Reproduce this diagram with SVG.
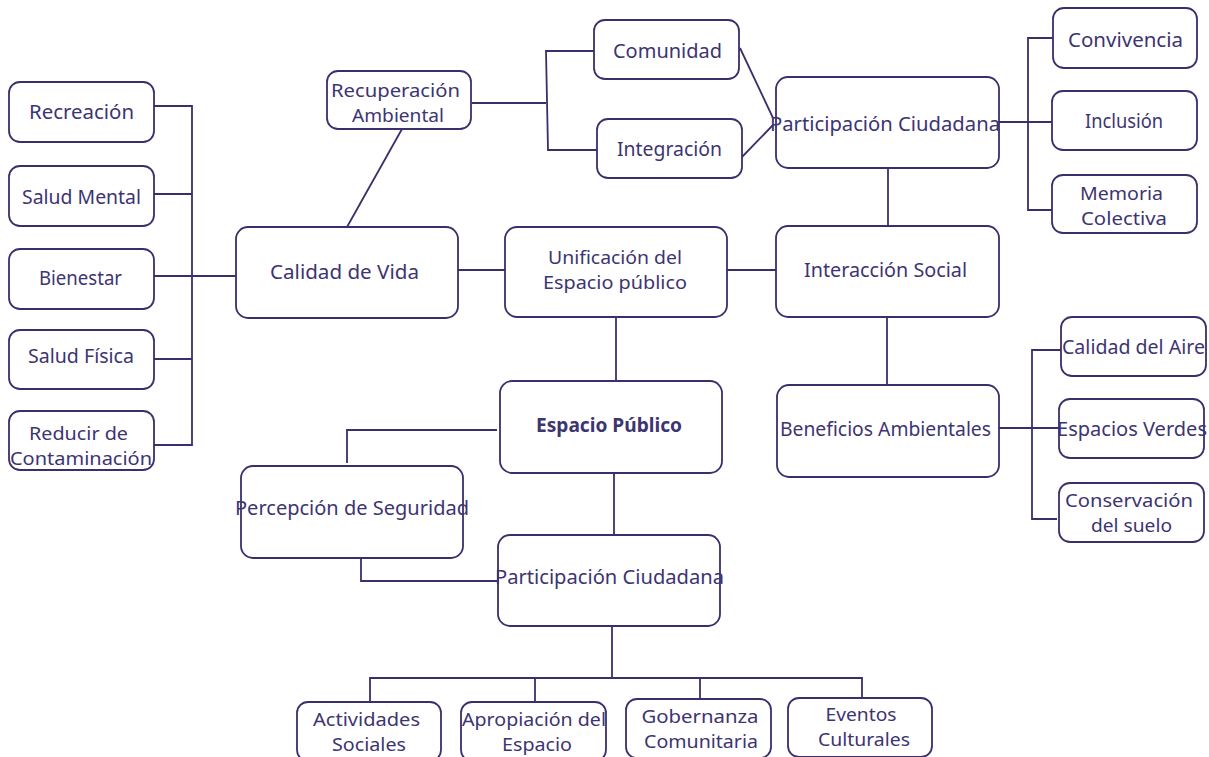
<svg xmlns="http://www.w3.org/2000/svg" width="1209" height="757" viewBox="0 0 1209 757">
<style>
.box{fill:#fff;stroke:#3a2f6b;stroke-width:1.8}
.ln{fill:none;stroke:#3a2f6b;stroke-width:1.8}
text{font-family:"Noto Sans","Liberation Sans",sans-serif;font-size:19px;fill:#3d3472;text-anchor:middle;dominant-baseline:central}
.m{font-size:18px}
.b{font-weight:bold}
</style>
<rect width="1209" height="757" fill="#fff"/>
<g id="connectors">
<polyline class="ln" points="154,106 192,106 192,445 154,445"/>
<line class="ln" x1="154" y1="194" x2="192" y2="194"/>
<line class="ln" x1="154" y1="276" x2="236" y2="276"/>
<line class="ln" x1="154" y1="359" x2="192" y2="359"/>
<line class="ln" x1="402" y1="129" x2="347" y2="227"/>
<line class="ln" x1="472" y1="103" x2="546" y2="103"/>
<polyline class="ln" points="596,51 546,51 548,150 597,150"/>
<line class="ln" x1="740" y1="48" x2="773" y2="118"/>
<line class="ln" x1="742" y1="157" x2="773" y2="125"/>
<line class="ln" x1="999" y1="122" x2="1052" y2="122"/>
<polyline class="ln" points="1053,38 1028,38 1028,210 1052,210"/>
<line class="ln" x1="458" y1="270" x2="505" y2="270"/>
<line class="ln" x1="727" y1="270" x2="776" y2="270"/>
<line class="ln" x1="888" y1="168" x2="888" y2="226"/>
<line class="ln" x1="887" y1="317" x2="887" y2="385"/>
<line class="ln" x1="999" y1="428" x2="1059" y2="428"/>
<polyline class="ln" points="1062,350 1032,350 1032,519 1057,519"/>
<line class="ln" x1="616" y1="317" x2="616" y2="381"/>
<polyline class="ln" points="497,430 347,430 347,463"/>
<polyline class="ln" points="361,556 361,581 497,581"/>
<line class="ln" x1="614" y1="473" x2="614" y2="535"/>
<line class="ln" x1="612" y1="626" x2="612" y2="678"/>
<polyline class="ln" points="370,702 370,678 862,678 862,698"/>
<line class="ln" x1="535" y1="678" x2="535" y2="702"/>
<line class="ln" x1="700" y1="678" x2="700" y2="699"/>
</g>
<g id="n-recreacion"><rect class="box" x="9" y="82" width="145" height="60" rx="11"/><text x="81.5" y="112" textLength="105" lengthAdjust="spacingAndGlyphs">Recreación</text></g>
<g id="n-saludmental"><rect class="box" x="9" y="166" width="145" height="60" rx="11"/><text x="81.5" y="197" textLength="119" lengthAdjust="spacingAndGlyphs">Salud Mental</text></g>
<g id="n-bienestar"><rect class="box" x="9" y="249" width="145" height="60" rx="11"/><text x="80.5" y="278" textLength="83" lengthAdjust="spacingAndGlyphs">Bienestar</text></g>
<g id="n-saludfisica"><rect class="box" x="9" y="330" width="145" height="59" rx="11"/><text x="81" y="356" textLength="106" lengthAdjust="spacingAndGlyphs">Salud Física</text></g>
<g id="n-reducir"><rect class="box" x="9" y="411" width="145" height="59" rx="11"/><text class="m" x="78.5" y="433" textLength="99" lengthAdjust="spacingAndGlyphs">Reducir de</text><text class="m" x="81" y="458" textLength="142" lengthAdjust="spacingAndGlyphs">Contaminación</text></g>
<g id="n-calidadvida"><rect class="box" x="236" y="227" width="222" height="91" rx="12"/><text x="344.5" y="272" textLength="149" lengthAdjust="spacingAndGlyphs">Calidad de Vida</text></g>
<g id="n-recuperacion"><rect class="box" x="327" y="71" width="144" height="58" rx="11"/><text class="m" x="395.5" y="90" textLength="129" lengthAdjust="spacingAndGlyphs">Recuperación</text><text class="m" x="398" y="115" textLength="92" lengthAdjust="spacingAndGlyphs">Ambiental</text></g>
<g id="n-comunidad"><rect class="box" x="594" y="20" width="145" height="59" rx="11"/><text x="667.5" y="51" textLength="109" lengthAdjust="spacingAndGlyphs">Comunidad</text></g>
<g id="n-integracion"><rect class="box" x="597" y="119" width="145" height="59" rx="11"/><text x="669.5" y="149" textLength="105" lengthAdjust="spacingAndGlyphs">Integración</text></g>
<g id="n-participacion1"><rect class="box" x="776" y="77" width="223" height="91" rx="12"/><text x="885" y="124" textLength="230" lengthAdjust="spacingAndGlyphs">Participación Ciudadana</text></g>
<g id="n-convivencia"><rect class="box" x="1053" y="8" width="144" height="60" rx="11"/><text x="1125.5" y="40" textLength="115" lengthAdjust="spacingAndGlyphs">Convivencia</text></g>
<g id="n-inclusion"><rect class="box" x="1052" y="91" width="145" height="59" rx="11"/><text x="1124" y="121" textLength="78" lengthAdjust="spacingAndGlyphs">Inclusión</text></g>
<g id="n-memoria"><rect class="box" x="1052" y="175" width="145" height="58" rx="11"/><text class="m" x="1121.5" y="193" textLength="83" lengthAdjust="spacingAndGlyphs">Memoria</text><text class="m" x="1124" y="218" textLength="86" lengthAdjust="spacingAndGlyphs">Colectiva</text></g>
<g id="n-unificacion"><rect class="box" x="505" y="227" width="222" height="90" rx="12"/><text class="m" x="615" y="257" textLength="134" lengthAdjust="spacingAndGlyphs">Unificación del</text><text class="m" x="615" y="282" textLength="144" lengthAdjust="spacingAndGlyphs">Espacio público</text></g>
<g id="n-interaccion"><rect class="box" x="776" y="226" width="223" height="91" rx="12"/><text x="885.5" y="270" textLength="163" lengthAdjust="spacingAndGlyphs">Interacción Social</text></g>
<g id="n-beneficios"><rect class="box" x="777" y="385" width="222" height="92" rx="12"/><text x="885.5" y="429" textLength="211" lengthAdjust="spacingAndGlyphs">Beneficios Ambientales</text></g>
<g id="n-aire"><rect class="box" x="1061" y="317" width="145" height="59" rx="11"/><text x="1133.5" y="347" textLength="143" lengthAdjust="spacingAndGlyphs">Calidad del Aire</text></g>
<g id="n-verdes"><rect class="box" x="1059" y="399" width="145" height="59" rx="11"/><text x="1132" y="429" textLength="150" lengthAdjust="spacingAndGlyphs">Espacios Verdes</text></g>
<g id="n-suelo"><rect class="box" x="1059" y="483" width="145" height="59" rx="11"/><text class="m" x="1129" y="500" textLength="128" lengthAdjust="spacingAndGlyphs">Conservación</text><text class="m" x="1131.5" y="525" textLength="81" lengthAdjust="spacingAndGlyphs">del suelo</text></g>
<g id="n-espaciopublico"><rect class="box" x="500" y="381" width="222" height="92" rx="12"/><text class="b" x="609" y="425" textLength="146" lengthAdjust="spacingAndGlyphs">Espacio Público</text></g>
<g id="n-percepcion"><rect class="box" x="241" y="466" width="222" height="92" rx="12"/><text x="352" y="508" textLength="234" lengthAdjust="spacingAndGlyphs">Percepción de Seguridad</text></g>
<g id="n-participacion2"><rect class="box" x="498" y="535" width="222" height="91" rx="12"/><text x="609.5" y="577" textLength="229" lengthAdjust="spacingAndGlyphs">Participación Ciudadana</text></g>
<g id="n-actividades"><rect class="box" x="297" y="702" width="144" height="59" rx="11"/><text class="m" x="366.5" y="719" textLength="107" lengthAdjust="spacingAndGlyphs">Actividades</text><text class="m" x="369" y="744" textLength="74" lengthAdjust="spacingAndGlyphs">Sociales</text></g>
<g id="n-apropiacion"><rect class="box" x="461" y="702" width="145" height="59" rx="11"/><text class="m" x="534" y="719" textLength="144" lengthAdjust="spacingAndGlyphs">Apropiación del</text><text class="m" x="537" y="744" textLength="70" lengthAdjust="spacingAndGlyphs">Espacio</text></g>
<g id="n-gobernanza"><rect class="box" x="626" y="699" width="145" height="59" rx="11"/><text class="m" x="700" y="716" textLength="117" lengthAdjust="spacingAndGlyphs">Gobernanza</text><text class="m" x="701" y="741" textLength="114" lengthAdjust="spacingAndGlyphs">Comunitaria</text></g>
<g id="n-eventos"><rect class="box" x="788" y="698" width="144" height="59" rx="11"/><text class="m" x="861" y="714" textLength="71" lengthAdjust="spacingAndGlyphs">Eventos</text><text class="m" x="864" y="739" textLength="92" lengthAdjust="spacingAndGlyphs">Culturales</text></g>
</svg>
